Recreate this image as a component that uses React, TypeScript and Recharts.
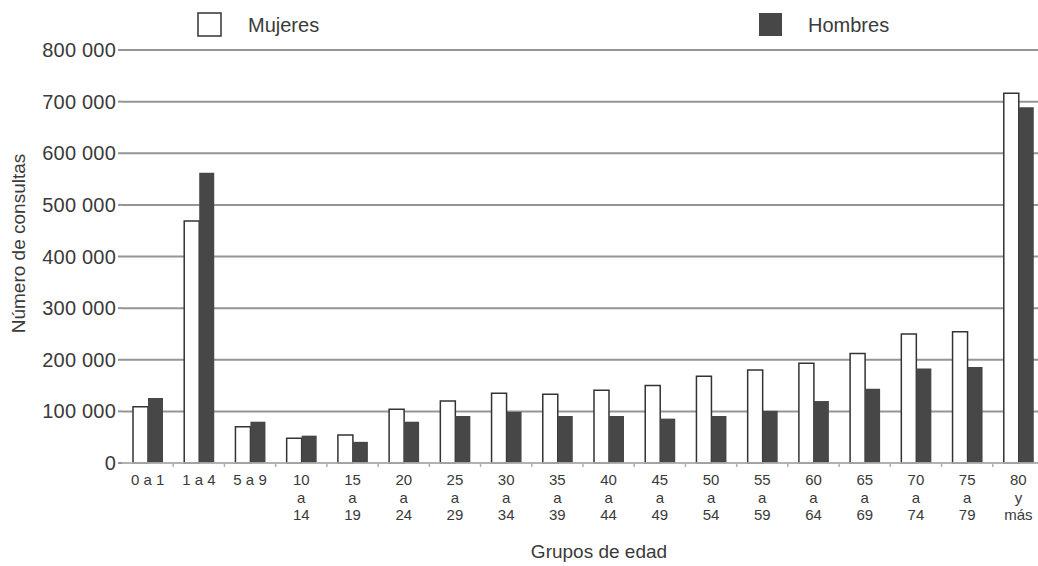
import React from "react";
import { BarChart, Bar, XAxis, YAxis, CartesianGrid } from "recharts";

const categories = [
  "0 a 1", "1 a 4", "5 a 9", "10 a 14", "15 a 19", "20 a 24", "25 a 29", "30 a 34", "35 a 39",
  "40 a 44", "45 a 49", "50 a 54", "55 a 59", "60 a 64", "65 a 69", "70 a 74", "75 a 79", "80 y más",
];
const tickLines: string[][] = [
  ["0 a 1"], ["1 a 4"], ["5 a 9"], ["10", "a", "14"], ["15", "a", "19"], ["20", "a", "24"],
  ["25", "a", "29"], ["30", "a", "34"], ["35", "a", "39"], ["40", "a", "44"], ["45", "a", "49"],
  ["50", "a", "54"], ["55", "a", "59"], ["60", "a", "64"], ["65", "a", "69"], ["70", "a", "74"],
  ["75", "a", "79"], ["80", "y", "más"],
];
const mujeres = [109000, 469000, 70000, 48000, 54000, 104000, 120000, 135000, 133000, 141000, 150000, 168000, 180000, 193000, 212000, 250000, 254000, 716000];
const hombres = [126000, 562000, 80000, 53000, 41000, 80000, 91000, 99000, 91000, 91000, 86000, 91000, 101000, 120000, 144000, 183000, 186000, 689000];
const yTicks = [0, 100000, 200000, 300000, 400000, 500000, 600000, 700000, 800000];
const seriesNames = ["Mujeres", "Hombres"];

const data = categories.map((c, i) => ({ grupo: c, Mujeres: mujeres[i], Hombres: hombres[i] }));

const FONT = "'Liberation Sans', Arial, Helvetica, sans-serif";
const TEXT = "#3a3a3a";
const DARK = "#474747";
const CHART_W = 1046;
const PLOT_LEFT = 122;
const PLOT_RIGHT_MARGIN = 2;
const BAND = (CHART_W - PLOT_LEFT - PLOT_RIGHT_MARGIN) / categories.length;

const fmt = (v: number) => {
  if (v === 0) return "0";
  const s = String(v);
  return s.slice(0, s.length - 3) + " " + s.slice(-3);
};

const XTick = (props: any) => {
  const { x, y, payload, index } = props;
  const lines = tickLines[payload.index ?? index] || [String(payload.value)];
  return (
    <g>
      <line x1={x + BAND / 2} x2={x + BAND / 2} y1={y - 8} y2={y - 4} stroke="#b0b0b0" strokeWidth={1.5} />
      <text x={x} y={y} textAnchor="middle" fill={TEXT} fontSize={15} fontFamily={FONT}>
        {lines.map((l, i) => (
          <tspan key={i} x={x} y={y + 14 + i * 17.5}>{l}</tspan>
        ))}
      </text>
    </g>
  );
};

const YLabel = (props: any) => {
  const vb = props.viewBox || {};
  const cx = 25;
  const cy = (vb.y ?? 50) + (vb.height ?? 413) / 2 - 13;
  return (
    <text
      x={cx}
      y={cy}
      transform={`rotate(-90 ${cx} ${cy})`}
      textAnchor="middle"
      fill={TEXT}
      fontSize={19}
      fontFamily={FONT}
    >
      Número de consultas
    </text>
  );
};

const LegendOverlay = () => (
  <svg width={1038} height={50} style={{ position: "absolute", left: 0, top: 0 }}>
    <rect x={198} y={13} width={23} height={23} fill="#fff" stroke="#333" strokeWidth={1.5} />
    <text x={248} y={32} fill={TEXT} fontSize={20} fontFamily={FONT}>{seriesNames[0]}</text>
    <rect x={759} y={13} width={23} height={23} fill={DARK} />
    <text x={808} y={32} fill={TEXT} fontSize={20} fontFamily={FONT}>{seriesNames[1]}</text>
  </svg>
);

export default function App() {
  return (
    <div style={{ position: "absolute", left: 0, top: 0, width: 1038, height: 566, overflow: "hidden", background: "#fff" }}>
      <BarChart
        width={CHART_W}
        height={566}
        data={data}
        margin={{ top: 50, right: PLOT_RIGHT_MARGIN, left: 0, bottom: 0 }}
        barGap={0}
        barSize={15}
      >
        <CartesianGrid horizontal vertical={false} stroke="#959595" strokeWidth={2} />
        <XAxis
          dataKey="grupo"
          height={103}
          interval={0}
          axisLine={{ stroke: "#bdbdbd", strokeWidth: 1.5 }}
          tickLine={false}
          tick={<XTick />}
          label={{ value: "Grupos de edad", position: "insideBottom", offset: 8, fill: TEXT, fontSize: 19, fontFamily: FONT, dx: 16 } as any}
        />
        <YAxis
          width={PLOT_LEFT}
          domain={[0, 800000]}
          ticks={yTicks}
          tickFormatter={fmt}
          axisLine={false}
          tickLine={{ stroke: "#959595", strokeWidth: 2 }}
          tickSize={4}
          tick={{ fill: TEXT, fontSize: 20, fontFamily: FONT, letterSpacing: 0.2 }}
          label={<YLabel />}
        />
        <Bar dataKey="Mujeres" fill="#ffffff" stroke="#333" strokeWidth={1.5} isAnimationActive={false} />
        <Bar dataKey="Hombres" fill={DARK} isAnimationActive={false} />
      </BarChart>
      <LegendOverlay />
    </div>
  );
}
